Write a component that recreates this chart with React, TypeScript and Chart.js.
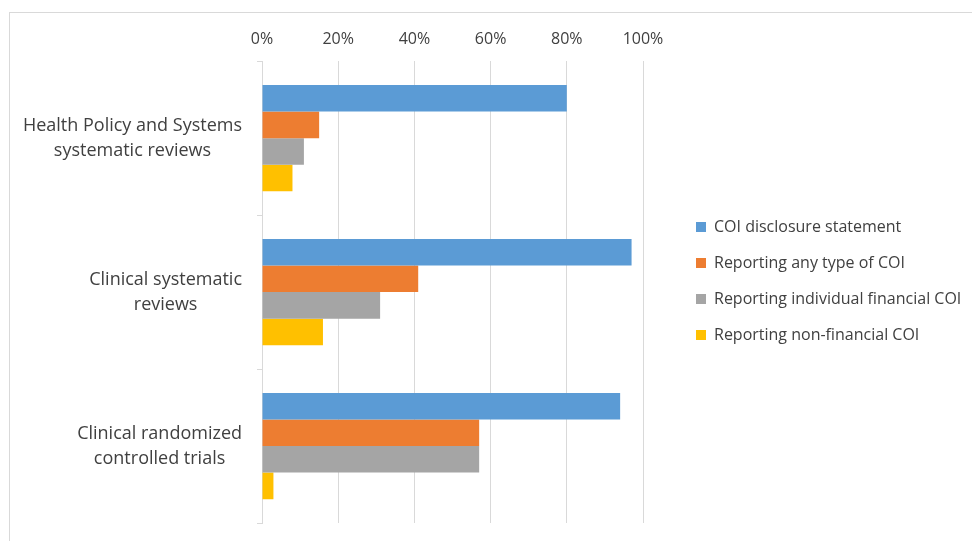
import React, { useEffect, useRef } from "react";
import { Chart, registerables } from "chart.js";

Chart.register(...registerables);

const categories: string[][] = [
  ["Health Policy and Systems", "systematic reviews"],
  ["Clinical systematic", "reviews"],
  ["Clinical randomized", "controlled trials"],
];
const seriesNames = [
  "COI disclosure statement",
  "Reporting any type of COI",
  "Reporting individual financial COI",
  "Reporting non-financial COI",
];
const coiDisclosure = [0.8, 0.97, 0.94];
const anyTypeCoi = [0.15, 0.41, 0.57];
const individualFinancialCoi = [0.11, 0.31, 0.57];
const nonFinancialCoi = [0.08, 0.16, 0.03];
const xMin = 0;
const xMax = 1;
const xStep = 0.2;

const colors = ["#5B9BD5", "#ED7D31", "#A5A5A5", "#FFC000"];
const FONT = "'Open Sans'";
const TEXT = "#404040";
const GRID = "#d9d9d9";

const catLabelPlugin = {
  id: "catLabels",
  afterDraw(chart: any) {
    const y = chart.scales.y;
    const ctx = chart.ctx;
    ctx.save();
    ctx.font = `18px ${FONT}`;
    ctx.fillStyle = TEXT;
    ctx.textAlign = "center";
    ctx.textBaseline = "middle";
    const lh = 25;
    (chart.data.labels as any[]).forEach((lab, i) => {
      const lines: string[] = Array.isArray(lab) ? lab : [lab];
      const w = Math.max(...lines.map((l) => ctx.measureText(l).width));
      const cx = y.right - 20 - w / 2;
      const cy = y.getPixelForTick(i);
      lines.forEach((l, j) => {
        ctx.fillText(l, cx, cy + (j - (lines.length - 1) / 2) * lh);
      });
    });
    ctx.restore();
  },
};

const legendWidthPlugin = {
  id: "legendWidth",
  afterInit(chart: any) {
    const lg = chart.legend;
    if (!lg) return;
    const orig = lg.fit.bind(lg);
    lg.fit = () => {
      orig();
      lg.width = 296;
    };
  },
};

export default function App() {
  const ref = useRef<HTMLCanvasElement>(null);
  useEffect(() => {
    if (!ref.current) return;
    const seriesValues = [coiDisclosure, anyTypeCoi, individualFinancialCoi, nonFinancialCoi];
    const chart = new Chart(ref.current, {
      type: "bar",
      data: {
        labels: categories,
        datasets: seriesNames.map((name, i) => ({
          label: name,
          data: seriesValues[i],
          backgroundColor: colors[i],
          borderWidth: 0,
          categoryPercentage: 0.69,
          barPercentage: 1,
          yAxisID: "y",
        })),
      },
      options: {
        indexAxis: "y",
        responsive: false,
        animation: false,
        layout: { padding: { top: 18, bottom: 18, left: 0, right: 0 } },
        scales: {
          x: {
            position: "top",
            min: xMin,
            max: xMax,
            ticks: {
              stepSize: xStep,
              callback: (v: any) => Math.round(Number(v) * 100) + "%",
              font: { family: FONT, size: 16 },
              color: TEXT,
              padding: 12,
            },
            grid: { color: GRID, drawTicks: false, lineWidth: 1 },
            border: { display: false },
          },
          y: {
            type: "category",
            position: "left",
            ticks: { display: false },
            grid: { drawOnChartArea: false, drawTicks: true, tickLength: 5, color: GRID, offset: true },
            border: { display: true, color: GRID },
            afterFit: (s: any) => {
              s.width = 262;
            },
          },
          gap: {
            type: "category",
            position: "right",
            display: true,
            ticks: { display: false },
            grid: { display: false },
            border: { display: false },
            afterFit: (s: any) => {
              s.width = 33;
            },
          },
        },
        plugins: {
          legend: {
            position: "right",
            maxWidth: 400,
            title: { display: true, text: " ", font: { size: 17.5 }, padding: 0 },
            labels: {
              boxWidth: 10,
              boxHeight: 10,
              padding: 20,
              color: TEXT,
              font: { family: FONT, size: 16 },
            },
          },
          tooltip: { enabled: false },
        },
      },
      plugins: [catLabelPlugin, legendWidthPlugin],
    } as any);
    return () => chart.destroy();
  }, []);

  return (
    <div
      style={{
        position: "fixed",
        left: 0,
        top: 0,
        width: 972,
        height: 541,
        overflow: "hidden",
        background: "#fff",
      }}
    >
      <div
        style={{
          position: "absolute",
          left: 9,
          top: 12,
          width: 2000,
          height: 2000,
          borderLeft: "1px solid #d9d9d9",
          borderTop: "1px solid #d9d9d9",
        }}
      />
      <canvas ref={ref} width={972} height={541} style={{ position: "absolute", left: 0, top: 0 }} />
    </div>
  );
}
